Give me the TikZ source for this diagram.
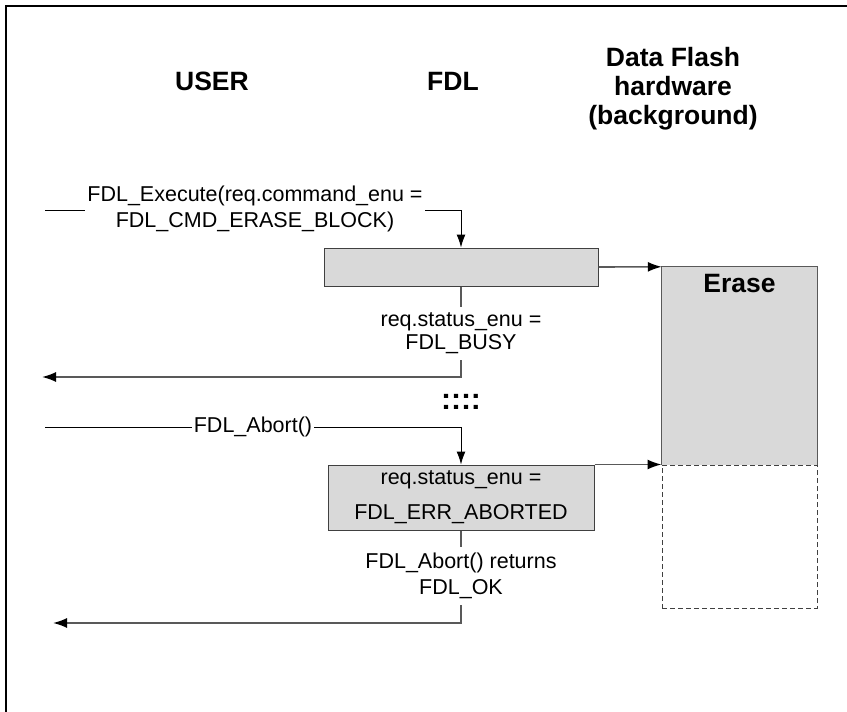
\documentclass[tikz,border=0pt]{standalone}
\usepackage{fontspec}
\setmainfont{Liberation Sans}
\usetikzlibrary{arrows.meta,positioning,calc}

\tikzset{
  head/.style={font=\fontsize{26.5}{29}\selectfont\bfseries, align=center, inner sep=0pt},
  lbl/.style={fill=white, align=center, inner xsep=2pt, inner ysep=6pt},
  fdlbox/.style={draw=black!75, fill=black!15, line width=1pt, align=center},
  uline/.style={draw=black, line width=1pt, -{Latex[length=13pt,width=9pt]}},
  fline/.style={draw=black!65, line width=1.6pt, -{Latex[length=14pt,width=10pt,color=black]}}
}

\begin{document}
\begin{tikzpicture}[x=1pt, y=-1pt, font=\fontsize{21.5}{25}\selectfont]
  \useasboundingbox (0,0) rectangle (847,712);
  \draw[line width=2.5pt] (6,712) -- (6,6) -- (847,6);
  % column heads
  \foreach \x/\name/\txt in {212/user/USER, 453/fdl/FDL}
     \node[head] (\name) at (\x,81.5) {\txt};
  \node[head] (hw) at (673,89) {Data Flash\\hardware\\(background)};
  % FDL boxes
  \node[fdlbox, minimum width=274pt, minimum height=38pt] (busybox) at (461,267) {};
  \node[fdlbox, minimum width=266pt, minimum height=65pt] (abortbox) at (461,497.5) {req.status\_enu =\\[10pt]FDL\_ERR\_ABORTED};
  % hardware
  \node[fill=black!15, minimum width=155pt, minimum height=198pt, inner sep=0pt] (erase) at (739.5,366) {};
  \draw[draw=black!65, line width=1.2pt] (erase.south west) -- (erase.north west) -- (erase.north east) -- (erase.south east);
  \node[font=\fontsize{26.5}{26}\selectfont\bfseries] (erasetxt) at (739.5,283.5) {Erase};
  \node[draw=black!75, line width=1pt, dash pattern=on 5pt off 3pt, minimum width=155pt, minimum height=143pt, inner sep=0pt] (idle) at (739.5,536.5) {};
  % calls from the user
  \coordinate (in1) at (45,210);
  \coordinate (in2) at (45,427);
  \draw[uline] (in1) -- (in1 -| busybox.north) -- (busybox.north);
  \node[lbl] (exectxt) at (255,209) {FDL\_Execute(req.command\_enu =\\[1pt]FDL\_CMD\_ERASE\_BLOCK)};
  \draw[uline] (in2) -- (in2 -| abortbox.north) -- (abortbox.north);
  \node[lbl] (aborttxt) at (253,427) {FDL\_Abort()};
  % returns
  \coordinate (out1) at (42,377);
  \coordinate (out2) at (53,623);
  \draw[fline] (busybox.south) -- (busybox.south |- out1) -- (out1);
  \node[lbl] (busytxt) at (461,333.5) {req.status\_enu =\\[-2pt]FDL\_BUSY};
  \draw[fline] (abortbox.south) -- (abortbox.south |- out2) -- (out2);
  \node[lbl] (oktxt) at (461,576) {FDL\_Abort() returns\\[1pt]FDL\_OK};
  \node[font=\fontsize{30}{30}\selectfont\bfseries] (wait) at (461,402) {::::};
  % hardware starts
  \draw[fline] (busybox.east) -- (erase.north west);
  \draw[fline] (abortbox.north east) -- (idle.north west);
\end{tikzpicture}
\end{document}
